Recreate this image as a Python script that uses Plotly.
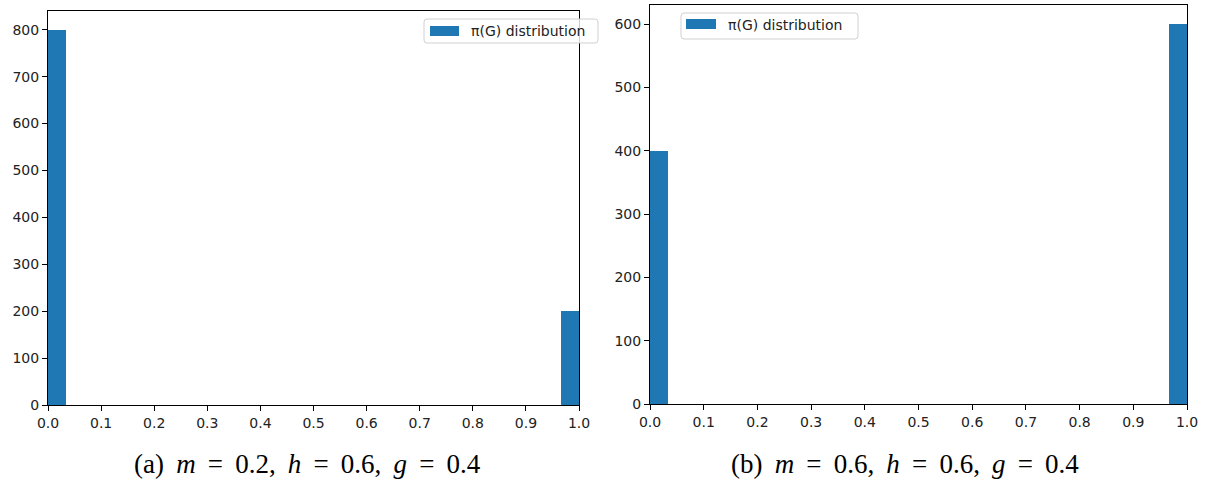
import numpy as np
import plotly.graph_objects as go

W, H = 1207, 484

# histogram of pi(G): 30 equal bins on [0, 1]
bin_edges = np.linspace(0.0, 1.0, 31)
counts_a = [800, 0, 0, 0, 0, 0, 0, 0, 0, 0, 0, 0, 0, 0, 0,
            0, 0, 0, 0, 0, 0, 0, 0, 0, 0, 0, 0, 0, 0, 200]
counts_b = [400, 0, 0, 0, 0, 0, 0, 0, 0, 0, 0, 0, 0, 0, 0,
            0, 0, 0, 0, 0, 0, 0, 0, 0, 0, 0, 0, 0, 0, 600]
legend_label = "π(G) distribution"
SP = "&nbsp;\u2009"
caption_a = f"(a){SP}<i>m</i>{SP}={SP}0.2,{SP}<i>h</i>{SP}={SP}0.6,{SP}<i>g</i>{SP}={SP}0.4"
caption_b = f"(b){SP}<i>m</i>{SP}={SP}0.6,{SP}<i>h</i>{SP}={SP}0.6,{SP}<i>g</i>{SP}={SP}0.4"
x_ticks = [round(v, 1) for v in np.arange(0, 1.01, 0.1)]
y_ticks_a = list(range(0, 801, 100))
y_ticks_b = list(range(0, 601, 100))

BLUE = "#1f77b4"
centers = (bin_edges[:-1] + bin_edges[1:]) / 2
width = bin_edges[1] - bin_edges[0]


def px(x):
    return x / W


def py(y):
    return 1 - y / H


fig = go.Figure()
fig.add_trace(go.Bar(x=centers, y=counts_a, width=width, marker=dict(color=BLUE, line=dict(width=0)),
                     xaxis="x", yaxis="y", showlegend=False))
fig.add_trace(go.Bar(x=centers, y=counts_b, width=width, marker=dict(color=BLUE, line=dict(width=0)),
                     xaxis="x2", yaxis="y2", showlegend=False))

tick_font = dict(family="DejaVu Sans", size=14, color="#222222")
axis_common = dict(showline=True, linecolor="black", linewidth=1, mirror=True,
                   ticks="outside", ticklen=5, tickwidth=1, tickcolor="black",
                   showgrid=False, zeroline=False, tickfont=tick_font, automargin=False)

fig.update_layout(
    width=W, height=H,
    margin=dict(l=0, r=0, t=0, b=0, pad=0, autoexpand=False),
    paper_bgcolor="white", plot_bgcolor="white",
    bargap=0,
    xaxis=dict(domain=[px(48), px(579)], range=[0, 1], tickvals=x_ticks, tickformat=".1f",
               anchor="y", **axis_common),
    yaxis=dict(domain=[py(405), py(11)], range=[0, 840], tickvals=y_ticks_a,
               anchor="x", **axis_common),
    xaxis2=dict(domain=[px(650), px(1187)], range=[0, 1], tickvals=x_ticks, tickformat=".1f",
                anchor="y2", **axis_common),
    yaxis2=dict(domain=[py(404), py(5)], range=[0, 630], tickvals=y_ticks_b,
                anchor="x2", **axis_common),
)


def rounded_rect(x0, y0, x1, y1, r=3):
    # path in paper coordinates built from pixel corners
    X = lambda v: px(v)
    Y = lambda v: py(v)
    rx, ry = r / W, r / H
    return (f"M {X(x0)+rx} {Y(y0)} L {X(x1)-rx} {Y(y0)} Q {X(x1)} {Y(y0)} {X(x1)} {Y(y0)-ry} "
            f"L {X(x1)} {Y(y1)+ry} Q {X(x1)} {Y(y1)} {X(x1)-rx} {Y(y1)} "
            f"L {X(x0)+rx} {Y(y1)} Q {X(x0)} {Y(y1)} {X(x0)} {Y(y1)+ry} "
            f"L {X(x0)} {Y(y0)-ry} Q {X(x0)} {Y(y0)} {X(x0)+rx} {Y(y0)} Z")


def add_legend(box, patch, text_x, text_y):
    fig.add_shape(type="path", path=rounded_rect(*box), xref="paper", yref="paper",
                  fillcolor="rgba(255,255,255,0.8)", line=dict(color="#d0d0d0", width=1), layer="above")
    fig.add_shape(type="rect", xref="paper", yref="paper",
                  x0=px(patch[0]), x1=px(patch[2]), y0=py(patch[3]), y1=py(patch[1]),
                  fillcolor=BLUE, line=dict(width=0), layer="above")
    fig.add_annotation(x=px(text_x), y=py(text_y), xref="paper", yref="paper", text=legend_label,
                       showarrow=False, xanchor="left", yanchor="middle",
                       font=dict(family="DejaVu Sans", size=14, color="#222222"))


add_legend((424, 19, 598, 43), (430, 26, 459, 36), 469, 31)
add_legend((681, 13, 858, 39), (686, 19, 716, 29), 726, 25)

cap_font = dict(family="Liberation Serif", size=27, color="black")
fig.add_annotation(x=px(307), y=py(464), xref="paper", yref="paper", text=caption_a,
                   showarrow=False, xanchor="center", yanchor="middle", font=cap_font)
fig.add_annotation(x=px(905), y=py(464), xref="paper", yref="paper", text=caption_b,
                   showarrow=False, xanchor="center", yanchor="middle", font=cap_font)

fig.write_html("out.html")
